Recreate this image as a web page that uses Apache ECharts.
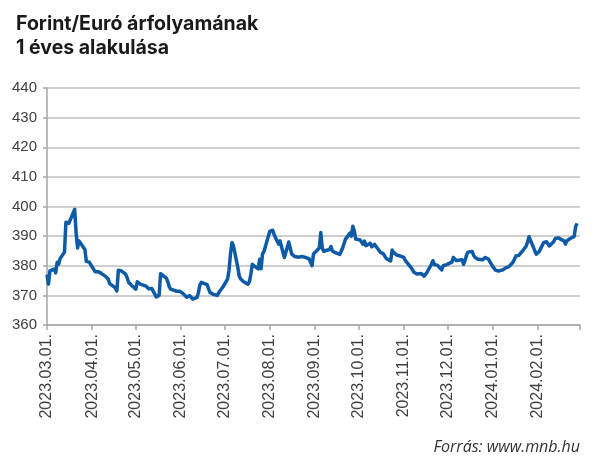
<!DOCTYPE html>
<html>
<head>
<meta charset="utf-8">
<script src="https://cdn.jsdelivr.net/npm/echarts@6/dist/echarts.min.js"></script>
<style>
html,body{margin:0;padding:0;background:#fff;}
#chart{width:600px;height:465px;}
</style>
</head>
<body>
<div id="chart"></div>
<script>
// Axis range (calendar days) and the first/last quoted day
const axisStart = '2023-03-01';
const axisEnd = '2024-03-01';
const firstQuote = '2023-03-01';
const lastQuote = '2024-02-28';

// EUR/HUF daily rates, one value per weekday (Mon..Fri) from 2023-03-01
const eurHuf = [
  377.0, 373.8, 378.3,
  378.9, 377.6, 381.2, 380.5, 382.4,
  384.6, 394.7, 395.0, 394.3, 395.5,
  399.0, 391.0, 386.0, 388.4, 387.9,
  385.5, 381.5, 381.3, 381.2, 381.1,
  378.0, 378.3, 378.0, 377.7, 377.5,
  376.5, 376.0, 375.5, 374.0, 373.6,
  372.5, 371.5, 378.5, 378.9, 378.3,
  377.2, 376.0, 374.4, 373.8, 373.4,
  372.1, 374.6, 374.2, 373.8, 373.6,
  373.1, 373.0, 372.2, 372.1, 372.3,
  369.5, 369.5, 370.0, 377.3, 377.0,
  375.8, 374.5, 372.8, 372.1, 371.7,
  371.4, 371.0, 371.4, 371.3, 370.8,
  369.4, 369.5, 369.9, 369.3, 368.7,
  369.3, 371.0, 373.5, 374.4, 374.4,
  373.6, 372.1, 371.0, 370.6, 370.4,
  370.0, 371.0, 371.5, 372.3, 373.0,
  375.5, 378.5, 384.0, 387.8, 386.8,
  379.5, 376.5, 375.5, 375.0, 374.6,
  373.8, 374.6, 377.2, 380.5, 381.0,
  378.9, 382.2, 379.0, 384.0, 384.8,
  390.0, 391.6, 392.1, 392.0, 390.5,
  387.3, 388.4, 386.5, 384.6, 382.8,
  388.0, 386.0, 384.0, 383.5, 383.1,
  382.9, 383.1, 383.1, 383.1, 382.9,
  382.3, 381.2, 380.0, 384.0, 383.5,
  386.0, 391.2, 386.0, 384.9, 384.7,
  385.5, 386.5, 385.0, 384.5, 384.4,
  383.8, 384.9, 386.0, 387.5, 389.0,
  391.0, 390.0, 393.3, 391.8, 389.0,
  388.7, 388.0, 387.3, 388.3, 386.8,
  387.6, 386.4, 387.0, 387.2, 386.7,
  384.5, 384.3, 384.0, 383.5, 382.4,
  381.6, 385.3, 384.5, 384.0, 383.7,
  383.2, 383.0, 382.8, 381.8, 381.4,
  379.4, 378.6, 377.8, 377.2, 377.2,
  377.4, 376.8, 376.5, 377.0, 377.8,
  380.5, 381.7, 380.4, 380.2, 380.2,
  378.6, 380.0, 380.4, 380.3, 380.0,
  381.2, 382.8, 382.2, 381.8, 382.3,
  382.0, 380.5, 381.7, 383.4, 384.6,
  384.8, 383.5, 382.8, 382.3, 382.2,
  382.0, 382.0, 382.8, 382.6, 382.3,
  379.8, 380.0, 378.5, 378.6, 378.2,
  378.6, 378.9, 379.3, 379.4, 379.6,
  381.2, 381.8, 383.3, 382.9, 383.5,
  385.3, 385.8, 386.6, 388.0, 389.8,
  386.2, 385.0, 383.9, 384.4, 384.8,
  387.8, 388.4, 388.1, 387.5, 386.7,
  388.2, 389.2, 389.5, 389.4, 389.2,
  388.4, 387.3, 388.4, 389.0, 389.1,
  389.9, 393.2, 394.3
];

// Y axis
const yMin = 360, yMax = 440, yStep = 10;

const titleText = 'Forint/Euró árfolyamának\n1 éves alakulása';
const sourceText = 'Forrás: www.mnb.hu';

function iso(d){
  const y = d.getUTCFullYear();
  const m = String(d.getUTCMonth()+1).padStart(2,'0');
  const dd = String(d.getUTCDate()).padStart(2,'0');
  return y + '-' + m + '-' + dd;
}
function dayList(a, b){
  const out = [];
  const d = new Date(a + 'T00:00:00Z');
  const end = new Date(b + 'T00:00:00Z');
  while (d <= end){ out.push(iso(d)); d.setUTCDate(d.getUTCDate()+1); }
  return out;
}
const allDays = dayList(axisStart, axisEnd);
const weekdays = dayList(firstQuote, lastQuote).filter(s => {
  const w = new Date(s + 'T00:00:00Z').getUTCDay();
  return w !== 0 && w !== 6;
});
const dayIndex = {};
allDays.forEach((s,i)=>{ dayIndex[s] = i; });
const seriesData = weekdays.slice(0, eurHuf.length).map((s,i)=>[dayIndex[s], eurHuf[i]]);

const isMonthStart = (i, v) => v.slice(8) === '01';

const chart = echarts.init(document.getElementById('chart'), null, {renderer:'canvas'});
chart.setOption({
  animation: false,
  backgroundColor: '#ffffff',
  title: {
    text: titleText,
    left: 11, top: 7,
    textStyle: {fontFamily: 'Inter', fontWeight: 700, fontSize: 19.5, lineHeight: 24, color: '#1a1a1a'}
  },
  grid: {left: 47, right: 20, top: 88, bottom: 140, containLabel: false},
  xAxis: {
    type: 'category',
    data: allDays,
    boundaryGap: false,
    axisLine: {show: true, lineStyle: {color: '#a6a6a6', width: 1.5}},
    axisTick: {show: true, interval: (i, v) => isMonthStart(i, v) || i === allDays.length - 1, length: 5, lineStyle: {color: '#a6a6a6', width: 1.5}},
    axisLabel: {
      interval: (i, v) => isMonthStart(i, v) && i < allDays.length - 1,
      rotate: 90,
      margin: 9,
      fontFamily: 'Liberation Sans',
      fontSize: 16,
      color: '#404040',
      formatter: v => v.replace(/-/g, '.') + '.'
    },
    splitLine: {show: false}
  },
  yAxis: {
    type: 'value',
    min: yMin, max: yMax, interval: yStep,
    axisLine: {show: true, lineStyle: {color: '#a6a6a6', width: 1.5}},
    axisTick: {show: true, length: 4, lineStyle: {color: '#a6a6a6', width: 1.5}},
    axisLabel: {fontFamily: 'Liberation Sans', fontSize: 15, color: '#404040', margin: 10},
    splitLine: {show: true, lineStyle: {color: '#bfbfbf', width: 1.5}}
  },
  series: [{
    type: 'line',
    data: seriesData,
    showSymbol: false,
    symbol: 'none',
    lineStyle: {color: '#0d5aa7', width: 3.5, join: 'round'},
    itemStyle: {color: '#0d5aa7'}
  }],
  graphic: [{
    type: 'text',
    right: 20, top: 439,
    style: {text: sourceText, font: 'italic 16px "Open Sans"', fill: '#333333'}
  }]
});
</script>
</body>
</html>
